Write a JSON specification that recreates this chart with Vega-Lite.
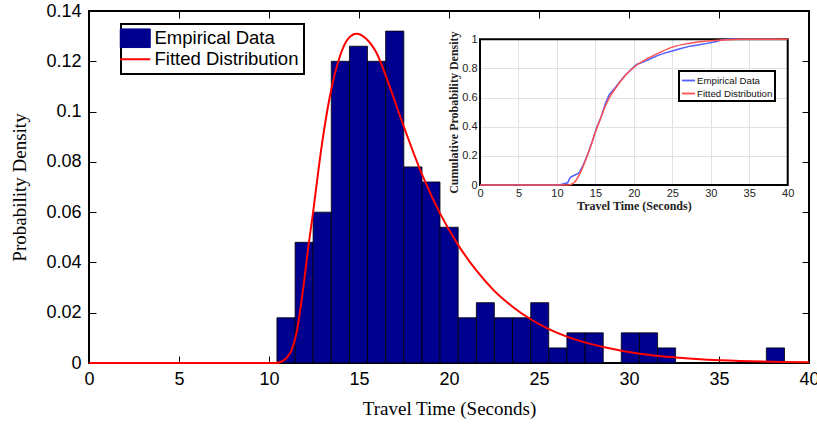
{
  "$schema": "https://vega.github.io/schema/vega-lite/v6.json",
  "width": 720,
  "height": 352,
  "autosize": {"type": "none"},
  "padding": {"left": 89, "top": 11, "right": 8, "bottom": 63},
  "background": "white",
  "config": {
    "view": {"stroke": "black", "strokeWidth": 2},
    "axis": {"grid": false, "labelColor": "black", "titleColor": "black", "tickColor": "black", "domainColor": "black", "labelOverlap": false, "labelFlush": false}
  },
  "datasets": {
    "bins": [
      {"start": 10.44, "end": 11.45, "density": 0.018},
      {"start": 11.45, "end": 12.45, "density": 0.048},
      {"start": 12.45, "end": 13.46, "density": 0.060},
      {"start": 13.46, "end": 14.47, "density": 0.120},
      {"start": 14.47, "end": 15.47, "density": 0.126},
      {"start": 15.47, "end": 16.48, "density": 0.120},
      {"start": 16.48, "end": 17.49, "density": 0.132},
      {"start": 17.49, "end": 18.50, "density": 0.078},
      {"start": 18.50, "end": 19.50, "density": 0.072},
      {"start": 19.50, "end": 20.51, "density": 0.054},
      {"start": 20.51, "end": 21.52, "density": 0.018},
      {"start": 21.52, "end": 22.52, "density": 0.024},
      {"start": 22.52, "end": 23.53, "density": 0.018},
      {"start": 23.53, "end": 24.54, "density": 0.018},
      {"start": 24.54, "end": 25.54, "density": 0.024},
      {"start": 25.54, "end": 26.55, "density": 0.006},
      {"start": 26.55, "end": 27.56, "density": 0.012},
      {"start": 27.56, "end": 28.57, "density": 0.012},
      {"start": 28.57, "end": 29.57, "density": 0},
      {"start": 29.57, "end": 30.58, "density": 0.012},
      {"start": 30.58, "end": 31.59, "density": 0.012},
      {"start": 31.59, "end": 32.59, "density": 0.006},
      {"start": 32.59, "end": 33.60, "density": 0},
      {"start": 33.60, "end": 34.61, "density": 0},
      {"start": 34.61, "end": 35.61, "density": 0},
      {"start": 35.61, "end": 36.62, "density": 0},
      {"start": 37.63, "end": 38.64, "density": 0.006}
    ],
    "pdf": [
      {"time": 0, "density": 0},
      {"time": 10.4, "density": 0},
      {"time": 10.7, "density": 0.0006},
      {"time": 10.97, "density": 0.002},
      {"time": 11.25, "density": 0.005},
      {"time": 11.53, "density": 0.012},
      {"time": 11.85, "density": 0.027},
      {"time": 12.2, "density": 0.047},
      {"time": 12.45, "density": 0.06},
      {"time": 12.9, "density": 0.085},
      {"time": 13.38, "density": 0.106},
      {"time": 13.94, "density": 0.122},
      {"time": 14.4, "density": 0.129},
      {"time": 14.86, "density": 0.131},
      {"time": 15.4, "density": 0.129},
      {"time": 15.97, "density": 0.1234},
      {"time": 16.7, "density": 0.11},
      {"time": 17.49, "density": 0.094},
      {"time": 18.5, "density": 0.075},
      {"time": 19.5, "density": 0.0595},
      {"time": 20.55, "density": 0.0465},
      {"time": 21.53, "density": 0.0367},
      {"time": 22.5, "density": 0.0288},
      {"time": 23.53, "density": 0.0224},
      {"time": 24.54, "density": 0.0174},
      {"time": 25.55, "density": 0.0135},
      {"time": 26.55, "density": 0.0105},
      {"time": 27.55, "density": 0.0082},
      {"time": 28.57, "density": 0.0064},
      {"time": 30.6, "density": 0.0037},
      {"time": 32.6, "density": 0.0022},
      {"time": 35.06, "density": 0.0011},
      {"time": 40, "density": 0.0003}
    ],
    "box": [{"x0": 0, "x1": 40, "y0": 0, "y1": 1}],
    "ecdf": [
      {"time": 0, "cdf": 0},
      {"time": 10.3, "cdf": 0},
      {"time": 10.8, "cdf": 0.007},
      {"time": 11.4, "cdf": 0.015},
      {"time": 11.6, "cdf": 0.04},
      {"time": 11.8, "cdf": 0.055},
      {"time": 12.4, "cdf": 0.07},
      {"time": 12.9, "cdf": 0.085},
      {"time": 13.4, "cdf": 0.135},
      {"time": 14.0, "cdf": 0.21},
      {"time": 14.6, "cdf": 0.3},
      {"time": 15.2, "cdf": 0.4},
      {"time": 15.7, "cdf": 0.46},
      {"time": 16.3, "cdf": 0.56},
      {"time": 16.8, "cdf": 0.62},
      {"time": 17.2, "cdf": 0.645},
      {"time": 17.6, "cdf": 0.67},
      {"time": 18.2, "cdf": 0.71},
      {"time": 18.9, "cdf": 0.755},
      {"time": 19.6, "cdf": 0.79},
      {"time": 20.4, "cdf": 0.83},
      {"time": 20.8, "cdf": 0.835},
      {"time": 21.5, "cdf": 0.85},
      {"time": 22.3, "cdf": 0.87},
      {"time": 23.0, "cdf": 0.886},
      {"time": 24.0, "cdf": 0.905},
      {"time": 25.1, "cdf": 0.922},
      {"time": 26.0, "cdf": 0.935},
      {"time": 27.3, "cdf": 0.953},
      {"time": 28.5, "cdf": 0.963},
      {"time": 29.5, "cdf": 0.972},
      {"time": 30.6, "cdf": 0.983},
      {"time": 31.4, "cdf": 0.995},
      {"time": 32.0, "cdf": 1.0},
      {"time": 38.6, "cdf": 1.0}
    ],
    "cdf": [
      {"time": 0, "cdf": 0},
      {"time": 11.5, "cdf": 0},
      {"time": 11.9, "cdf": 0.005},
      {"time": 12.35, "cdf": 0.023},
      {"time": 13.0, "cdf": 0.08},
      {"time": 13.65, "cdf": 0.16},
      {"time": 14.3, "cdf": 0.252},
      {"time": 14.95, "cdf": 0.355},
      {"time": 15.6, "cdf": 0.446},
      {"time": 16.25, "cdf": 0.537},
      {"time": 16.9, "cdf": 0.606},
      {"time": 17.77, "cdf": 0.675},
      {"time": 18.85, "cdf": 0.75},
      {"time": 20.06, "cdf": 0.81},
      {"time": 21.67, "cdf": 0.865},
      {"time": 23.4, "cdf": 0.91},
      {"time": 25.1, "cdf": 0.948},
      {"time": 27.3, "cdf": 0.973},
      {"time": 29.5, "cdf": 0.988},
      {"time": 31.6, "cdf": 0.996},
      {"time": 34, "cdf": 1.0},
      {"time": 40, "cdf": 1.0}
    ],
    "frame": [{"t": 0, "d": 0}, {"t": 40, "d": 0.14}]
  },
  "layer": [
    {
      "layer": [
        {
          "data": {"name": "bins"},
          "mark": {"type": "rect", "stroke": "black", "strokeWidth": 0.8},
          "encoding": {
            "x": {"field": "start", "type": "quantitative",
              "scale": {"domain": [0, 40], "nice": false},
              "axis": {"orient": "bottom", "values": [0, 5, 10, 15, 20, 25, 30, 35, 40], "tickSize": -7, "labelPadding": 14, "labelFont": "Liberation Sans", "labelFontSize": 18, "title": "Travel Time (Seconds)", "titleFont": "Liberation Serif", "titleFontSize": 19, "titleFontWeight": "normal", "titlePadding": 11, "domain": false}},
            "x2": {"field": "end"},
            "y": {"field": "density", "type": "quantitative",
              "scale": {"domain": [0, 0.14], "nice": false},
              "axis": {"orient": "left", "values": [0, 0.02, 0.04, 0.06, 0.08, 0.1, 0.12, 0.14], "format": "~g", "tickSize": -7, "labelPadding": 15, "labelFont": "Liberation Sans", "labelFontSize": 18, "title": "Probability Density", "titleFont": "Liberation Serif", "titleFontSize": 19, "titleFontWeight": "normal", "titlePadding": 16, "domain": false}},
            "y2": {"datum": 0},
            "color": {"datum": "Empirical Data", "type": "nominal",
              "scale": {"domain": ["Empirical Data", "Fitted Distribution"], "range": ["#00008F", "#FF0000"]},
              "legend": {"orient": "none", "legendX": 32, "legendY": 13, "title": null, "direction": "vertical", "padding": 5, "labelFont": "Liberation Sans", "labelFontSize": 18.5, "labelColor": "black", "symbolSize": 576, "rowPadding": 0, "labelOffset": 10, "labelLimit": 300,
                "encode": {
                  "legend": {"update": {"stroke": {"value": "black"}, "strokeWidth": {"value": 2}, "fill": {"value": "white"}}},
                  "symbols": {"update": {
                    "shape": {"signal": "datum.value === 'Empirical Data' ? 'M-1,-0.62H1V0.62H-1Z' : 'M-1,0H1'"},
                    "size": {"value": 900},
                    "fill": {"signal": "datum.value === 'Empirical Data' ? '#00008F' : 'transparent'"},
                    "stroke": {"signal": "datum.value === 'Empirical Data' ? 'black' : '#FF0000'"},
                    "strokeWidth": {"signal": "datum.value === 'Empirical Data' ? 1 : 2"},
                    "opacity": {"value": 1}
                  }}
                }}}
          }
        },
        {
          "data": {"name": "pdf"},
          "mark": {"type": "line", "strokeWidth": 2, "interpolate": "monotone"},
          "encoding": {
            "x": {"field": "time", "type": "quantitative"},
            "y": {"field": "density", "type": "quantitative"},
            "color": {"datum": "Fitted Distribution", "type": "nominal",
              "legend": {"orient": "none", "legendX": 32, "legendY": 13, "title": null, "direction": "vertical", "padding": 5, "labelFont": "Liberation Sans", "labelFontSize": 18.5, "labelColor": "black", "symbolSize": 576, "rowPadding": 0, "labelOffset": 10, "labelLimit": 300,
                "encode": {
                  "legend": {"update": {"stroke": {"value": "black"}, "strokeWidth": {"value": 2}, "fill": {"value": "white"}}},
                  "symbols": {"update": {
                    "shape": {"signal": "datum.value === 'Empirical Data' ? 'M-1,-0.62H1V0.62H-1Z' : 'M-1,0H1'"},
                    "size": {"value": 900},
                    "fill": {"signal": "datum.value === 'Empirical Data' ? '#00008F' : 'transparent'"},
                    "stroke": {"signal": "datum.value === 'Empirical Data' ? 'black' : '#FF0000'"},
                    "strokeWidth": {"signal": "datum.value === 'Empirical Data' ? 1 : 2"},
                    "opacity": {"value": 1}
                  }}
                }}}
          }
        }
      ]
    },
    {
      "data": {"name": "box"},
      "mark": {"type": "rect", "filled": false, "stroke": "black", "strokeWidth": 2},
      "encoding": {
        "x": {"field": "x0", "type": "quantitative",
          "scale": {"domain": [0, 40], "range": [391, 698.7], "nice": false},
          "axis": {"orient": "top", "offset": 0, "values": [0, 5, 10, 15, 20, 25, 30, 35, 40], "grid": true, "gridColor": "#e2e2e2", "gridWidth": 1, "ticks": false, "labels": false, "domain": false, "title": null}},
        "x2": {"field": "x1"},
        "y": {"field": "y0", "type": "quantitative",
          "scale": {"domain": [0, 1], "range": [174, 28.3], "nice": false},
          "axis": {"orient": "left", "offset": 0, "values": [0, 0.2, 0.4, 0.6, 0.8, 1], "grid": true, "gridColor": "#e2e2e2", "gridWidth": 1, "ticks": false, "labels": false, "domain": false, "title": null}},
        "y2": {"field": "y1"}
      }
    },
    {
      "layer": [
        {
          "data": {"name": "ecdf"},
          "mark": {"type": "line", "strokeWidth": 1.5},
          "encoding": {
            "x": {"field": "time", "type": "quantitative",
              "scale": {"domain": [0, 40], "range": [391, 698.7], "nice": false},
              "axis": {"orient": "bottom", "offset": -178, "values": [0, 5, 10, 15, 20, 25, 30, 35, 40], "ticks": false, "domain": false, "labelPadding": 2, "labelFont": "Liberation Sans", "labelFontSize": 11, "labelColor": "#222222", "title": "Travel Time (Seconds)", "titleFont": "Liberation Serif", "titleFontSize": 12, "titleFontWeight": "bold", "titlePadding": 2, "titleColor": "#222222"}},
            "y": {"field": "cdf", "type": "quantitative",
              "scale": {"domain": [0, 1], "range": [174, 28.3], "nice": false},
              "axis": {"orient": "left", "offset": -391, "values": [0, 0.2, 0.4, 0.6, 0.8, 1], "format": "~g", "ticks": false, "domain": false, "labelPadding": 3, "labelFont": "Liberation Sans", "labelFontSize": 11, "labelColor": "#222222", "title": "Cumulative Probability Density", "titleFont": "Liberation Serif", "titleFontSize": 12, "titleFontWeight": "bold", "titlePadding": 1, "titleColor": "#222222"}},
            "color": {"datum": "Empirical Data", "type": "nominal",
              "scale": {"domain": ["Empirical Data", "Fitted Distribution"], "range": ["#5060ff", "#ff5050"]},
              "legend": {"orient": "none", "legendX": 590, "legendY": 60, "title": null, "direction": "vertical", "padding": 2, "labelFont": "Liberation Sans", "labelFontSize": 9.7, "labelColor": "#111111", "symbolType": "stroke", "symbolSize": 169, "symbolStrokeWidth": 1.8, "rowPadding": 0, "labelOffset": 1, "labelLimit": 200,
                "encode": {"legend": {"update": {"stroke": {"value": "black"}, "strokeWidth": {"value": 2}, "fill": {"value": "white"}}}}}}
          }
        },
        {
          "data": {"name": "cdf"},
          "mark": {"type": "line", "strokeWidth": 1.5, "interpolate": "monotone"},
          "encoding": {
            "x": {"field": "time", "type": "quantitative"},
            "y": {"field": "cdf", "type": "quantitative"},
            "color": {"datum": "Fitted Distribution", "type": "nominal"}
          }
        }
      ]
    },
    {
      "data": {"name": "frame"},
      "mark": {"type": "point", "opacity": 0},
      "encoding": {
        "x": {"field": "t", "type": "quantitative",
          "scale": {"domain": [0, 40], "nice": false},
          "axis": {"orient": "top", "values": [5, 10, 15, 20, 25, 30, 35], "labels": false, "tickSize": -7, "domain": false, "title": null}},
        "y": {"field": "d", "type": "quantitative",
          "scale": {"domain": [0, 0.14], "nice": false},
          "axis": {"orient": "right", "values": [0.02, 0.04, 0.06, 0.08, 0.1, 0.12], "labels": false, "tickSize": -7, "domain": false, "title": null}}
      }
    }
  ],
  "resolve": {
    "scale": {"x": "independent", "y": "independent", "color": "independent"},
    "axis": {"x": "independent", "y": "independent"},
    "legend": {"color": "independent"}
  }
}
